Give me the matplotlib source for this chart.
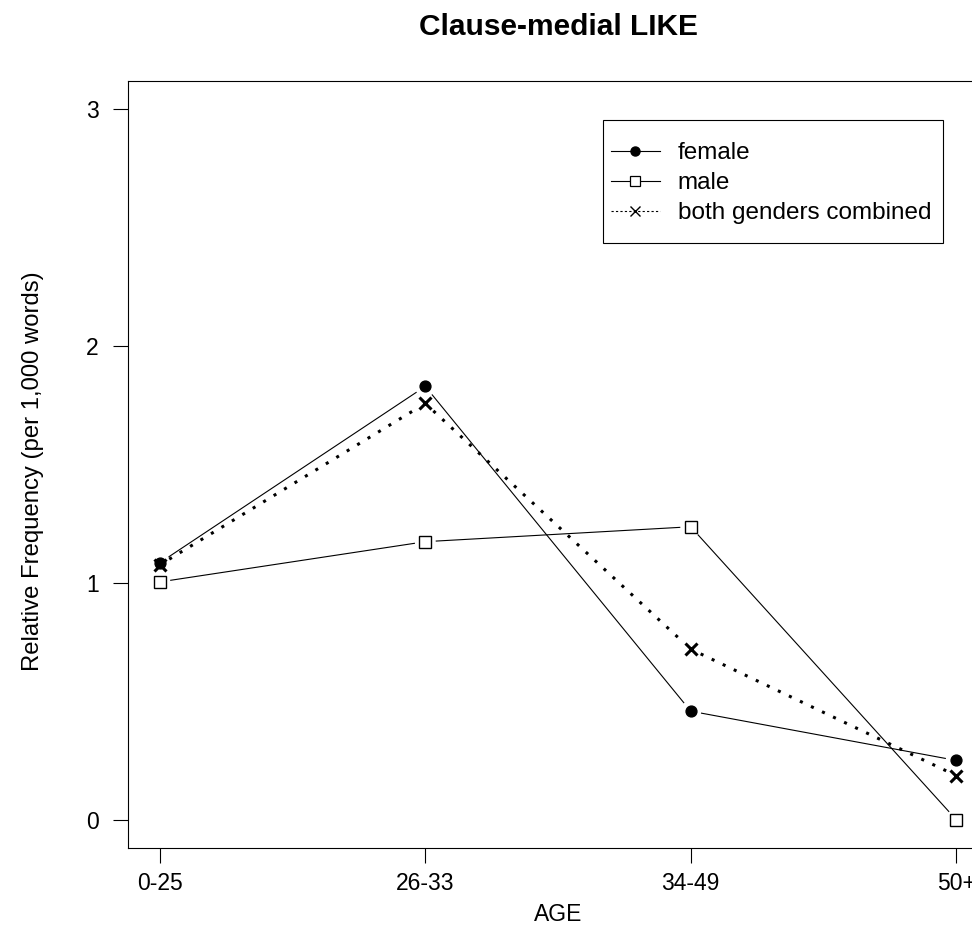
import matplotlib
matplotlib.use("Agg")
import matplotlib.pyplot as plt
from matplotlib.lines import Line2D
from matplotlib.patches import Rectangle
import numpy as np

plt.rcParams['font.family'] = ['Liberation Sans', 'DejaVu Sans']

# data
age_groups = ["0-25", "26-33", "34-49", "50+"]
female = [1.085, 1.83, 0.458, 0.25]
male = [1.004, 1.174, 1.237, 0.0]
combined = [1.076, 1.758, 0.72, 0.186]
y_ticks = [0, 1, 2, 3]

W, H = 972, 939
fig = plt.figure(figsize=(W / 100, H / 100), dpi=100)
# plot box runs past the right edge of the picture, as in the reference
ax = fig.add_axes([128 / W, 91 / H, 860 / W, 767 / H])

x = np.arange(1, len(age_groups) + 1)
ax.set_xlim(1 - 0.12, 4 + 0.12)
ax.set_ylim(-0.12, 3.12)


def gapped(ax, xs, ys, gap, **kw):
    """R type='b': line segments that stop short of the points"""
    tr = ax.transData
    pts = tr.transform(np.column_stack([xs, ys]))
    for p0, p1 in zip(pts[:-1], pts[1:]):
        d = p1 - p0
        u = d / np.hypot(*d)
        a = tr.inverted().transform(p0 + u * gap)
        b = tr.inverted().transform(p1 - u * gap)
        ax.plot([a[0], b[0]], [a[1], b[1]], color='black', **kw)


gapped(ax, x, female, 11, lw=0.8)
gapped(ax, x, male, 11, lw=0.8)
gapped(ax, x, combined, 11, lw=2.2, linestyle=(0, (1, 3)))

ax.plot(x, female, 'o', ms=7.8, color='black', ls='none')
ax.plot(x, male, 's', ms=8.5, mfc='white', mec='black', mew=1, ls='none')
ax.plot(x, combined, 'x', ms=8, color='black', mew=2.2, ls='none')

ax.set_xticks(x)
ax.set_xticklabels(age_groups)
ax.set_yticks(y_ticks)
ax.tick_params(length=11, width=0.8, labelsize=16.5, pad=6)
ax.tick_params(axis='y', pad=10)
for s in ax.spines.values():
    s.set_linewidth(0.8)
ax.spines['right'].set_visible(False)

ax.set_xlabel("AGE", fontsize=16.5, labelpad=6)
ax.set_ylabel("Relative Frequency (per 1,000 words)", fontsize=17.2, labelpad=27)
ax.yaxis.set_label_coords(-0.098, 0.4915)
ax.set_title("Clause-medial LIKE", fontsize=21.5, fontweight='bold', pad=33)

handles = [
    Line2D([], [], color='black', lw=0.8, marker='o', ms=6.5),
    Line2D([], [], color='black', lw=0.8, marker='s', ms=7, mfc='white', mew=0.9),
    Line2D([], [], color='black', lw=0.8, linestyle=(0, (2, 2)), marker='x', ms=7, mew=1),
]
leg = ax.legend(handles, ["female", "male", "both genders combined"],
                loc='upper left', bbox_to_anchor=(611 / W, 1 - 142 / H),
                bbox_transform=fig.transFigure, borderaxespad=0,
                fontsize=17.5, frameon=False,
                handlelength=2.0, handletextpad=0.75, labelspacing=0.33,
                borderpad=0)

# R style legend box: wide padding above and below, narrow at the sides
fig.canvas.draw()
bb = leg.get_window_extent()
fig.patches.append(Rectangle((bb.x0 - 8, bb.y0 - 19), bb.width + 20, bb.height + 41,
                             transform=None, fill=False, edgecolor='black',
                             lw=0.8, figure=fig))

fig.savefig("out.png", dpi=100)
